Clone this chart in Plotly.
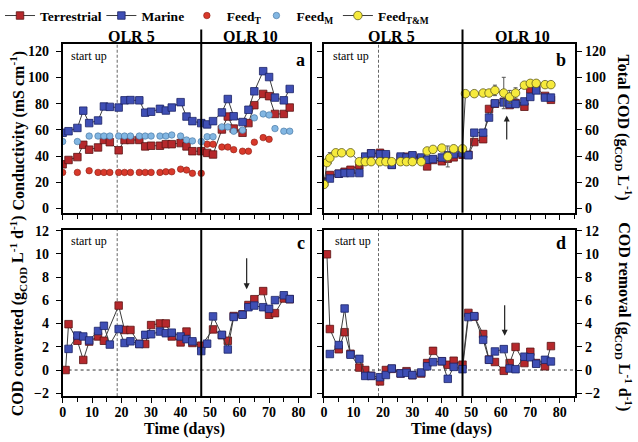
import plotly.graph_objects as go

W, H = 638, 442

# ---------------- data ----------------
# sampling days (Mon/Wed/Fri)
days = [0, 2, 5, 7, 9, 12, 14, 16, 19, 21, 23, 26, 28, 30, 33, 35, 37, 40, 42, 44,
        47, 49, 51, 54, 56, 58, 61, 63, 65, 68, 70, 72, 75, 77]

# panel a: conductivity (mS/cm)
terr_cond = [33.7, 37.0, 39.2, 48.6, 44.9, 46.6, 52.3, 50.6, 44.4, 52.3, 52.3, 52.3, 47.4, 47.9,
             47.9, 49.1, 49.1, 49.9, 47.4, 43.7, 43.7, 42.4, 41.2, 60.3, 70.2, 61.0, 57.8, 65.2,
             78.9, 87.5, 85.8, 72.2, 72.2, 77.1]
marine_cond = [57.8, 59.0, 61.5, 74.7, 65.2, 67.2, 77.9, 77.6, 77.1, 82.6, 82.8, 82.6, 73.2, 73.9,
               76.1, 74.8, 77.1, 81.2, 70.2, 66.7, 65.2, 64.2, 66.7, 73.4, 83.6, 70.4, 66.0, 75.4,
               89.5, 104.9, 100.4, 84.7, 82.6, 91.3]
feedT_days = [0, 5, 9, 12, 14, 16, 19, 21, 23, 26, 28, 30, 33, 35, 37, 40, 42, 44, 47, 49, 51,
              54, 56, 58, 61, 63, 65, 68, 70]
feedT_cond = [27.5, 27.5, 28.8, 27.5, 27.5, 27.5, 27.5, 27.5, 27.5, 27.5, 27.5, 27.5, 27.5, 28.0,
              28.0, 30.0, 29.3, 26.8, 26.8, 49.1, 49.1, 46.9, 46.9, 44.9, 43.7, 43.7, 50.6, 54.1, 52.8]
feedM_days = [0, 5, 9, 12, 14, 16, 19, 21, 23, 26, 28, 30, 33, 35, 37, 40, 42, 44, 47, 49, 51,
              54, 56, 58, 61, 65, 68, 70, 72, 75, 77]
feedM_cond = [51.1, 51.1, 55.3, 55.3, 55.3, 55.3, 55.3, 55.3, 55.3, 55.3, 55.3, 55.3, 55.3, 55.3,
              56.1, 55.3, 52.3, 51.6, 51.1, 54.8, 54.8, 62.3, 62.3, 59.0, 59.8, 69.2, 72.2, 71.4,
              61.0, 59.0, 59.0]

# panel b: total COD (g/L)
terr_cod = [20.5, 25.5, 26.5, 28.0, 29.5, 33.0, 38.0, 42.0, 42.5, 40.0, 33.5, 38.5, 39.5, 40.0,
            38.0, 32.1, 37.0, 36.0, 38.0, 39.0, 41.0, 41.0, 50.7, 52.9, 76.0, 80.0, 81.5, 79.0,
            80.5, 77.7, 91.0, 92.0, 86.0, 83.0]
marine_cod = [19.8, 22.8, 26.5, 27.0, 27.0, 27.0, 39.6, 42.1, 41.4, 41.4, 33.2, 39.6, 38.9, 40.6,
              38.9, 37.2, 37.7, 38.9, 40.6, 41.4, 42.1, 40.6, 57.9, 57.9, 69.4, 80.3, 81.0, 79.8,
              79.8, 81.8, 85.2, 90.2, 84.7, 84.7]
feedTM_days = [0, 1, 2, 4, 6, 9, 12, 14, 16, 19, 21, 23, 26, 28, 30, 33, 35, 37, 40, 42, 44, 47,
               48, 51, 54, 56, 58, 61, 63, 65, 68, 70, 72, 75, 77]
feedTM_cod = [18.3, 35.0, 38.6, 42.5, 42.5, 42.5, 35.7, 35.7, 35.7, 35.7, 35.7, 35.7, 35.7, 35.7,
              35.7, 35.7, 43.9, 45.1, 46.1, 39.7, 45.6, 45.6, 87.7, 87.7, 88.2, 88.2, 90.2, 88.2,
              85.2, 88.2, 94.2, 95.6, 95.6, 94.6, 94.6]
feedTM_err = [0, 0, 4, 0, 0, 0, 0, 0, 0, 0, 0, 0, 0, 0, 0, 0, 0, 0, 0, 8, 0, 0,
              0, 0, 0, 0, 4, 12, 5, 4, 0, 0, 0, 0, 0]

# panel c: COD converted (g/L/d)
terr_conv_days = [1, 2, 5, 7, 9, 12, 14, 19, 21, 23, 26, 28, 30, 33, 35, 37, 40, 42, 44, 47, 51,
                  54, 56, 58, 61, 63, 65, 68, 70, 72, 75, 77]
terr_conv = [0.0, 3.95, 2.52, 0.87, 2.45, 2.89, 2.52, 5.55, 3.45, 3.45, 2.25, 2.24, 3.87, 4.01,
             4.01, 2.89, 2.38, 3.31, 2.33, 2.10, 3.5, 3.0, 2.52, 4.65, 4.8, 5.6, 6.1, 6.8, 4.76,
             4.9, 6.16, 6.1]
marine_conv_days = days[1:]
marine_conv = [1.82, 2.97, 2.89, 2.55, 3.36, 3.81, 2.19, 3.53, 2.33, 2.47, 2.24, 3.03, 3.08, 3.31,
               3.17, 3.22, 2.89, 2.66, 2.47, 1.63, 2.27, 4.62, 3.03, 1.77, 4.57, 4.76, 5.41, 5.55,
               5.41, 5.27, 6.02, 6.44, 6.11]

# panel d: COD removal (g/L/d)
terr_rem_days = [1] + days[1:]
terr_rem = [9.97, 3.53, 1.79, 3.26, 1.4, 0.21, 0.0, -0.5, -0.98, 0.0, 0.1, -0.3, -0.1, -0.45,
            -0.3, 0.6, 1.65, 0.75, 0.45, 0.8, 0.46, 4.92, 4.6, 3.1, 0.9, 0.69, -0.07, 0.6, 1.99,
            0.6, 1.57, 0.6, 0.32, 2.06]
marine_rem_days = days[1:]
marine_rem = [1.38, 2.15, 5.3, 1.32, 0.96, -0.51, -0.51, -0.62, -0.43, 0.13, -0.29, -0.24, -0.43,
              -0.21, 0.32, 0.68, 0.76, -0.76, 0.27, 0.07, 4.56, 4.64, 2.6, 0.88, 1.6, 1.8, 0.13,
              0.07, 1.15, 1.1, 0.54, 0.88, 0.74]

# reference events
STARTUP_END_DAY = 18.5
OLR_SWITCH_DAY = 47
ARROW_B = dict(day=62, tail=51.5, head=71)
ARROW_C = dict(day=62.4, tail=9.75, head=6.95)
ARROW_D = dict(day=61.3, tail=5.7, head=2.95)

# ---------------- style ----------------
SERIF = "Liberation Serif"
RED = "#b5282c"
RED_EDGE = "#5c1414"
BLUE = "#3f4fb5"
BLUE_EDGE = "#1c2366"
FEEDT = "#d8392b"
FEEDM = "#82b6e2"
YELLOW = "#f6ea3c"
LINE = dict(color="#3c3c3c", width=1)


def px(x):
    return x / W


def py(y):
    return 1 - y / H


A_X = (59, 308.3)
B_X = (322, 575)
TOP_Y = (38, 211.5)
BOT_Y = (229, 400)


def square(fill, edge):
    return dict(symbol="square", size=7.5, color=fill, line=dict(color=edge, width=0.8))


fig = go.Figure()

# panel a
fig.add_trace(go.Scatter(x=days, y=terr_cond, mode="lines+markers", name="Terrestrial",
                         line=LINE, marker=square(RED, RED_EDGE), xaxis="x", yaxis="y", legend="legend"))
fig.add_trace(go.Scatter(x=days, y=marine_cond, mode="lines+markers", name="Marine",
                         line=LINE, marker=square(BLUE, BLUE_EDGE), xaxis="x", yaxis="y", legend="legend2"))
fig.add_trace(go.Scatter(x=feedT_days, y=feedT_cond, mode="markers", name="Feed<sub>T</sub>",
                         marker=dict(symbol="circle", size=6.5, color=FEEDT, line=dict(color="#8a1d12", width=0.6)),
                         xaxis="x", yaxis="y", legend="legend3"))
fig.add_trace(go.Scatter(x=feedM_days, y=feedM_cond, mode="markers", name="Feed<sub>M</sub>",
                         marker=dict(symbol="circle", size=6.5, color=FEEDM, line=dict(color="#41709c", width=0.6)),
                         xaxis="x", yaxis="y", legend="legend4"))
# panel b
fig.add_trace(go.Scatter(x=days, y=terr_cod, mode="lines+markers", showlegend=False,
                         line=LINE, marker=square(RED, RED_EDGE), xaxis="x2", yaxis="y2"))
fig.add_trace(go.Scatter(x=days, y=marine_cod, mode="lines+markers", showlegend=False,
                         line=LINE, marker=square(BLUE, BLUE_EDGE), xaxis="x2", yaxis="y2"))
fig.add_trace(go.Scatter(x=feedTM_days, y=feedTM_cod, mode="lines+markers", name="Feed<sub>T&amp;M</sub>",
                         line=LINE,
                         marker=dict(symbol="circle", size=8.5, color=YELLOW, line=dict(color="#5e5a1c", width=0.8)),
                         error_y=dict(type="data", array=feedTM_err, visible=True, color="#555555",
                                      thickness=1, width=2),
                         xaxis="x2", yaxis="y2", legend="legend5"))
# panel c
fig.add_trace(go.Scatter(x=terr_conv_days, y=terr_conv, mode="lines+markers", showlegend=False,
                         line=LINE, marker=square(RED, RED_EDGE), xaxis="x3", yaxis="y3"))
fig.add_trace(go.Scatter(x=marine_conv_days, y=marine_conv, mode="lines+markers", showlegend=False,
                         line=LINE, marker=square(BLUE, BLUE_EDGE), xaxis="x3", yaxis="y3"))
# panel d
fig.add_trace(go.Scatter(x=terr_rem_days, y=terr_rem, mode="lines+markers", showlegend=False,
                         line=LINE, marker=square(RED, RED_EDGE), xaxis="x4", yaxis="y4"))
fig.add_trace(go.Scatter(x=marine_rem_days, y=marine_rem, mode="lines+markers", showlegend=False,
                         line=LINE, marker=square(BLUE, BLUE_EDGE), xaxis="x4", yaxis="y4"))

TICKFONT = dict(family=SERIF, size=14, color="black", weight="bold")


def xaxis(dom, rng, anchor, labels):
    return dict(domain=[px(dom[0]), px(dom[1])], range=rng, anchor=anchor,
                showline=True, linecolor="black", linewidth=1.5, mirror=True,
                ticks="outside", ticklen=5, tickwidth=1.3, tickcolor="black",
                tick0=0, dtick=10, showticklabels=labels, tickfont=TICKFONT,
                ticklabelstandoff=-3,
                minor=dict(ticks="outside", ticklen=4, tickwidth=1.3, tickcolor="black",
                           tick0=0, dtick=5, showgrid=False),
                showgrid=False, zeroline=False, fixedrange=True)


def yaxis(dom, rng, anchor, dtick, side, mirror, standoff):
    return dict(domain=[py(dom[1]), py(dom[0])], range=rng, anchor=anchor, side=side,
                showline=True, linecolor="black", linewidth=1.5, mirror=mirror,
                ticks="outside", ticklen=5, tickwidth=1.3, tickcolor="black",
                tick0=0, dtick=dtick, tickfont=TICKFONT, ticklabelstandoff=standoff,
                showgrid=False, zeroline=False, fixedrange=True)


A_RANGE_X = [0, 84.0]
B_RANGE_X = [0, 85.3]
TOP_RANGE_Y = [-3.35, 125.7]
BOT_RANGE_Y = [-2.25, 12.08]

LEGEND_FONT = dict(family=SERIF, size=13.5, color="black", weight="bold")
LEGEND_TEXT_OFFSET = 40
LEGEND_TEXT_X = [36, 138, 224, 294, 376]


def legend_at(text_x):
    return dict(orientation="h", x=px(text_x - LEGEND_TEXT_OFFSET), y=py(9), xanchor="left",
                yanchor="middle", font=LEGEND_FONT, bgcolor="rgba(0,0,0,0)", itemwidth=30)


fig.update_layout(
    width=W, height=H,
    margin=dict(l=0, r=0, t=0, b=0),
    paper_bgcolor="white", plot_bgcolor="white",
    font=dict(family=SERIF, color="black"),
    xaxis=xaxis(A_X, A_RANGE_X, "y", False),
    yaxis=yaxis(TOP_Y, TOP_RANGE_Y, "x", 20, "left", True, 4),
    xaxis2=xaxis(B_X, B_RANGE_X, "y2", False),
    yaxis2=yaxis(TOP_Y, TOP_RANGE_Y, "x2", 20, "right", "ticks", 0),
    xaxis3=xaxis(A_X, A_RANGE_X, "y3", True),
    yaxis3=yaxis(BOT_Y, BOT_RANGE_Y, "x3", 2, "left", True, 4),
    xaxis4=xaxis(B_X, B_RANGE_X, "y4", True),
    yaxis4=yaxis(BOT_Y, BOT_RANGE_Y, "x4", 2, "right", "ticks", 0),
    showlegend=True,
    legend=legend_at(LEGEND_TEXT_X[0]),
    legend2=legend_at(LEGEND_TEXT_X[1]),
    legend3=legend_at(LEGEND_TEXT_X[2]),
    legend4=legend_at(LEGEND_TEXT_X[3]),
    legend5=legend_at(LEGEND_TEXT_X[4]),
)

shapes = []
# start-up dashed lines and OLR switch lines
for xr, yr, top in (("x", "y", TOP_Y), ("x2", "y2", TOP_Y), ("x3", "y3", BOT_Y), ("x4", "y4", BOT_Y)):
    shapes.append(dict(type="line", xref=xr, yref="paper", x0=STARTUP_END_DAY, x1=STARTUP_END_DAY,
                       y0=py(top[1]), y1=py(top[0]), line=dict(color="#666666", width=1, dash="3px,2px"),
                       layer="below"))
    y_top = py(23) if yr in ("y", "y2") else py(top[0])
    shapes.append(dict(type="line", xref=xr, yref="paper", x0=OLR_SWITCH_DAY, x1=OLR_SWITCH_DAY,
                       y0=py(top[1]), y1=y_top, line=dict(color="black", width=2), layer="above"))
for xr, yr in (("x3", "y3"), ("x4", "y4")):
    shapes.append(dict(type="line", xref=f"{xr} domain", yref=yr, x0=0, x1=1, y0=0, y1=0,
                       line=dict(color="#333333", width=1, dash="dot"), layer="below"))
fig.update_layout(shapes=shapes)

ann = []
BOLD16 = dict(family=SERIF, size=16, color="black", weight="bold")
for xr, x5, x10 in (("x", 23.2, 63.6), ("x2", 22.9, 67.4)):
    ann.append(dict(xref=xr, yref="paper", x=x5, y=py(30), text="OLR 5", showarrow=False,
                    font=BOLD16, xanchor="center", yanchor="middle"))
    ann.append(dict(xref=xr, yref="paper", x=x10, y=py(30), text="OLR 10", showarrow=False,
                    font=BOLD16, xanchor="center", yanchor="middle"))

for letter, x, y in (("a", 298.5, 54), ("b", 561, 54), ("c", 298.5, 242.5), ("d", 561, 242.5)):
    ann.append(dict(xref="paper", yref="paper", x=px(x), y=py(y), text=letter, showarrow=False,
                    font=dict(family=SERIF, size=18, color="black", weight="bold"),
                    xanchor="center", yanchor="middle"))

for x, y in ((86, 50.5), (349, 50.5), (86, 240.5), (351, 240.5)):
    ann.append(dict(xref="paper", yref="paper", x=px(x), y=py(y), text="start up", showarrow=False,
                    font=dict(family=SERIF, size=12, color="black"), xanchor="center", yanchor="middle"))

TITLE = dict(family=SERIF, size=16, color="black", weight="bold")
ann.append(dict(xref="paper", yref="paper", x=px(14), y=py(127), textangle=-90, showarrow=False,
                text="Conductivity (mS cm<sup>-1</sup>)", font=TITLE, xanchor="center", yanchor="middle"))
ann.append(dict(xref="paper", yref="paper", x=px(14), y=py(317), textangle=-90, showarrow=False,
                text="COD converted (g<sub>COD</sub> L<sup>-1</sup> d<sup>-1</sup>)", font=TITLE,
                xanchor="center", yanchor="middle"))
ann.append(dict(xref="paper", yref="paper", x=px(624), y=py(124), textangle=90, showarrow=False,
                text="Total COD (g<sub>COD</sub> L<sup>-1</sup>)", font=TITLE, xanchor="center", yanchor="middle"))
ann.append(dict(xref="paper", yref="paper", x=px(624), y=py(318), textangle=90, showarrow=False,
                text="COD removal (g<sub>COD</sub> L<sup>-1</sup> d<sup>-1</sup>)", font=TITLE,
                xanchor="center", yanchor="middle"))
for x in (182, 450):
    ann.append(dict(xref="paper", yref="paper", x=px(x), y=py(433.5), text="Time (days)", showarrow=False,
                    font=TITLE, xanchor="center", yanchor="middle"))

for xr, yr, a in (("x2", "y2", ARROW_B), ("x3", "y3", ARROW_C), ("x4", "y4", ARROW_D)):
    ann.append(dict(xref=xr, yref=yr, axref=xr, ayref=yr, x=a["day"], y=a["head"], ax=a["day"],
                    ay=a["tail"], showarrow=True, arrowhead=2, arrowsize=1, arrowwidth=1.2,
                    arrowcolor="#222222", text=""))
fig.update_layout(annotations=ann)

fig.write_html("out.html", config={"displayModeBar": False},
               post_script="document.body.style.margin='0px';document.body.style.overflow='hidden';")
